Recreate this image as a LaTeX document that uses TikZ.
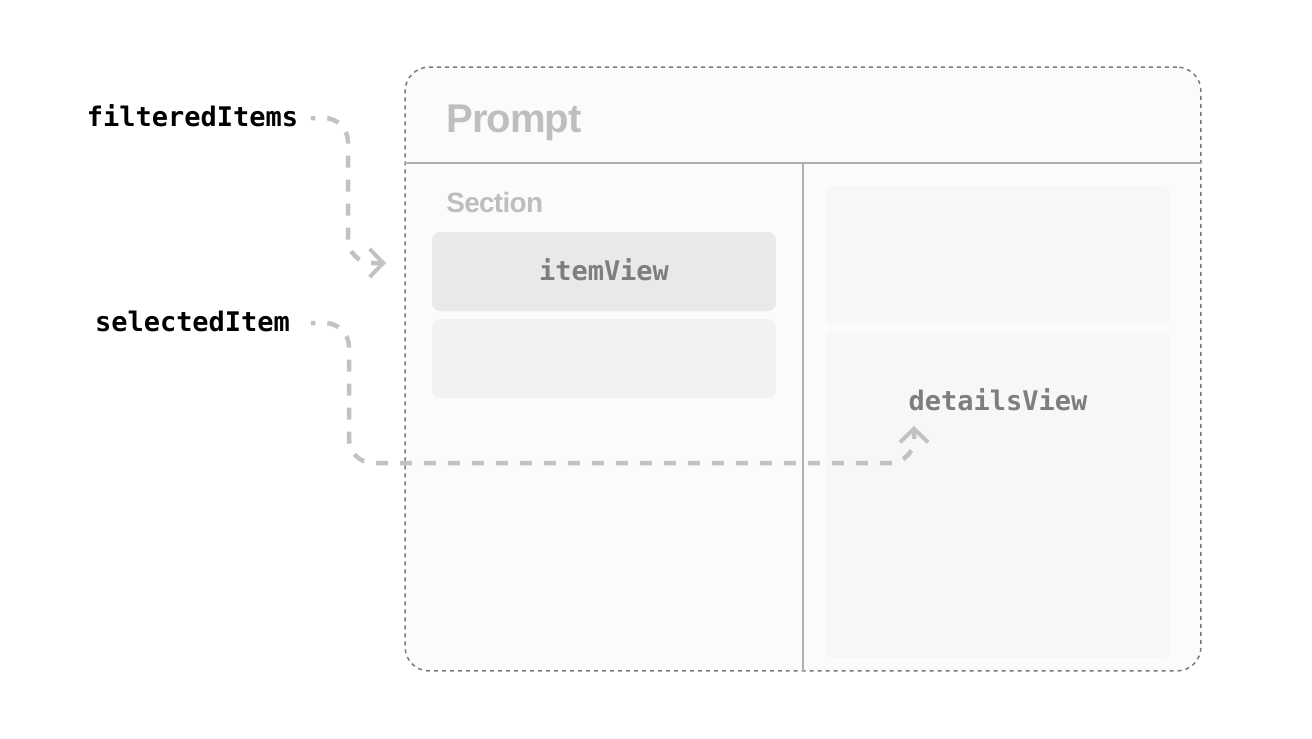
\documentclass[tikz,border=0pt]{standalone}
\usepackage{fontspec}
\setmainfont{Liberation Sans}
\setmonofont{DejaVu Sans Mono}
\newfontfamily\titlefont[LetterSpace=-2.5]{Liberation Sans}
\usetikzlibrary{arrows.meta}
\definecolor{FrameFill}{HTML}{FBFBFB}
\definecolor{FrameLine}{HTML}{7A7A7A}
\definecolor{RuleLine}{HTML}{B0B0B0}
\definecolor{FlowLine}{HTML}{C2C2C2}
\definecolor{ViewText}{HTML}{7E7E7E}
\definecolor{TitleText}{HTML}{BEBEBE}
\tikzstyle{PanelNode}=[rectangle, rounded corners=0.16cm, inner sep=0pt, minimum width=6.88cm]
\tikzstyle{CodeLabel}=[font=\ttfamily\bfseries\fontsize{15.35}{18}\selectfont, text height=10pt, text depth=0pt, inner sep=0pt]
\tikzstyle{SourceLabel}=[CodeLabel, text=black, minimum width=4.72cm]
\tikzstyle{ViewLabel}=[CodeLabel, text=ViewText]
\tikzstyle{RuleEdge}=[RuleLine, line width=0.03cm]
\tikzstyle{FlowEdge}=[-{Straight Barb[length=0.27cm, width=0.56cm, line width=0.08cm]}, FlowLine, line width=0.09cm, rounded corners=0.48cm, dash pattern=on 0.24cm off 0.24cm, dash phase=0.15cm]

\begin{document}
\begin{tikzpicture}[x=0.02cm, y=-0.02cm]
\useasboundingbox (0,0) rectangle (1312,738);

\node[rectangle, draw=FrameLine, fill=FrameFill, line width=0.03cm, dash pattern=on 0.08cm off 0.08cm, rounded corners=0.48cm, minimum width=15.92cm, minimum height=12.08cm](PromptFrame) at (803,369) {};

\coordinate (RuleCross) at (803,163);
\draw[RuleEdge](PromptFrame.west |- RuleCross) -- (PromptFrame.east |- RuleCross);
\draw[RuleEdge](RuleCross) -- (PromptFrame.south);

\node[inner sep=0pt, anchor=west, text=TitleText, font=\titlefont\bfseries\fontsize{22.8}{28}\selectfont](PromptTitle) at (446,122.5) {Prompt};
\node[inner sep=0pt, anchor=west, text=TitleText, font=\titlefont\bfseries\fontsize{15.9}{18}\selectfont](SectionTitle) at (446,202.5) {Section};

\node[PanelNode, fill=black!8.5, minimum height=1.58cm](ItemView) at (604,271.5) {};
\node[PanelNode, fill=black!5, minimum height=1.58cm](ItemBlank) at (604,358.5) {};
\node[PanelNode, fill=black!3, minimum height=2.76cm](DetailsTop) at (998,255) {};
\node[PanelNode, fill=black!3, minimum height=6.52cm](DetailsView) at (998,495) {};
\node[ViewLabel](ItemLabel) at (604,272) {itemView};
\node[ViewLabel](DetailsLabel) at (998,402) {detailsView};

\node[SourceLabel](FilteredItems) at (192.5,118) {filteredItems};
\node[SourceLabel](SelectedItem) at (192.5,323) {selectedItem};

\coordinate (ItemBend) at (348,263);
\coordinate (ItemPort) at (386,263);
\coordinate (DetailsBend) at (349,463);
\coordinate (DetailsPort) at (914,426);

\draw[FlowEdge](FilteredItems.east) -| (ItemBend) -- (ItemPort);
\draw[FlowEdge](SelectedItem.east) -| (DetailsBend) -| (DetailsPort);

\end{tikzpicture}
\end{document}
